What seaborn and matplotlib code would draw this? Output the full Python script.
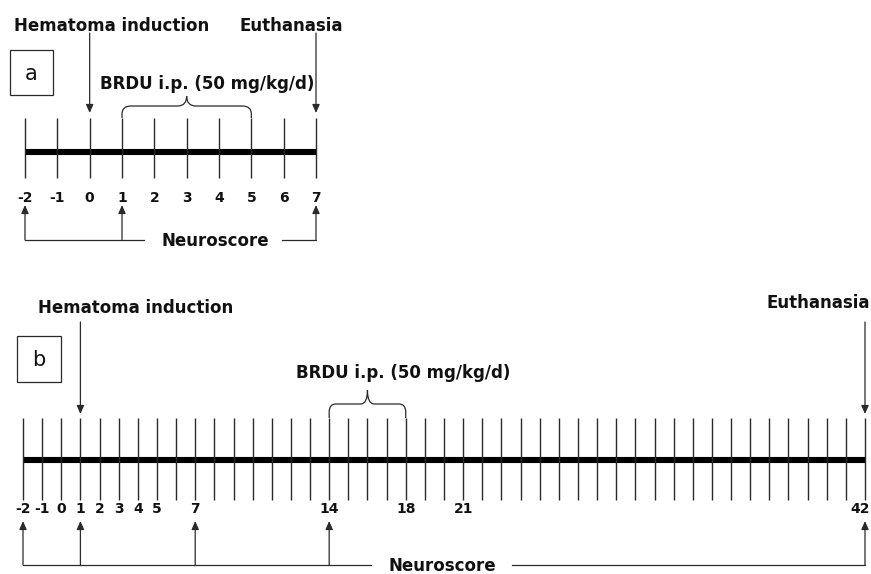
import matplotlib
matplotlib.use("Agg")
import matplotlib.pyplot as plt
from matplotlib.path import Path
from matplotlib.patches import PathPatch, Rectangle
import seaborn as sns

# ---------------- data ----------------
days_a = list(range(-2, 8))
labels_a = [-2, -1, 0, 1, 2, 3, 4, 5, 6, 7]
neuro_a = [-2, 1, 7]
brdu_a = (1, 5)
hematoma_a = 0
euthanasia_a = 7

days_b = list(range(-2, 43))
labels_b = [-2, -1, 0, 1, 2, 3, 4, 5, 7, 14, 18, 21, 42]
neuro_b = [-2, 1, 7, 14, 42]
brdu_b = (14, 18)
hematoma_b = 1
euthanasia_b = 42

panel_letters = ["a", "b"]
txt_hematoma = "Hematoma induction"
txt_euth = "Euthanasia"
txt_brdu = "BRDU i.p. (50 mg/kg/d)"
txt_neuro = "Neuroscore"

# ---------------- style ----------------
sns.set_style("white")
plt.rcParams["font.family"] = ["DejaVu Sans"]

W, H = 871, 574
fig = plt.figure(figsize=(W / 100, H / 100), dpi=100)

THIN = "#2a2a2a"
TXT = "#111111"
FS_TITLE = 12
FS_LAB = 10


def make_axes(px_left, px_right, py_top, py_bot, d0, d1):
    ax = fig.add_axes([px_left / W, 1 - py_bot / H, (px_right - px_left) / W, (py_bot - py_top) / H])
    ax.set_xlim(d0, d1)
    ax.set_ylim(py_bot, py_top)
    ax.set_axis_off()
    return ax


def arrow(ax, x, y_from, y_to):
    ax.annotate("", xy=(x, y_to), xytext=(x, y_from),
                arrowprops=dict(arrowstyle="-|>,head_length=0.5,head_width=0.22",
                                lw=0.9, color=THIN, mutation_scale=10,
                                shrinkA=0, shrinkB=0),
                annotation_clip=False)


def brace(ax, x1, x2, yb, yt, yp, rx, ry):
    xm = (x1 + x2) / 2
    verts = [(x1, yb), (x1, yt + ry), (x1, yt), (x1 + rx, yt),
             (xm - rx, yt), (xm, yt), (xm, yp), (xm, yt), (xm + rx, yt),
             (x2 - rx, yt), (x2, yt), (x2, yt + ry), (x2, yb)]
    codes = [Path.MOVETO, Path.LINETO, Path.CURVE3, Path.CURVE3,
             Path.LINETO, Path.CURVE3, Path.CURVE3, Path.CURVE3, Path.CURVE3,
             Path.LINETO, Path.CURVE3, Path.CURVE3, Path.LINETO]
    ax.add_patch(PathPatch(Path(verts, codes), fc="none", ec=THIN, lw=0.9, clip_on=False))


def panel(ax, days, labels, neuro, brdu, hem, euth, letter, L):
    # thick timeline
    sns.lineplot(x=[days[0], days[-1]], y=[L["line"], L["line"]], ax=ax,
                 color="black", lw=4.4, legend=False)
    for ln in ax.lines:
        ln.set_clip_on(False)
        ln.set_solid_capstyle("butt")
    # day ticks
    ax.vlines(days, L["tick_top"], L["tick_bot"], color=THIN, lw=1.0, clip_on=False)
    # tick labels (the last one is kept inside the picture edge)
    for d in labels:
        if d == labels[-1] and L.get("last_right"):
            ax.text(L["last_right"], L["lab"], str(d), ha="right", va="baseline",
                    fontsize=FS_LAB, fontweight="bold", color=TXT)
        else:
            ax.text(d, L["lab"], str(d), ha="center", va="baseline",
                    fontsize=FS_LAB, fontweight="bold", color=TXT)
    # event arrows
    arrow(ax, hem, L["arr_top"], L["arr_tip"])
    arrow(ax, euth, L["arr_top"], L["arr_tip"])
    ax.text(L["hem_x"], L["title_y"], txt_hematoma, ha="center", va="baseline",
            fontsize=FS_TITLE, fontweight="bold", color=TXT)
    ax.text(L["euth_x"], L["etitle_y"], txt_euth, ha=L.get("euth_ha", "center"), va="baseline",
            fontsize=FS_TITLE, fontweight="bold", color=TXT)
    # BRDU brace
    brace(ax, brdu[0], brdu[1], L["tick_top"], L["br_top"], L["br_peak"], L["rx"], 8)
    ax.text(L["brdu_x"], L["brdu_y"], txt_brdu, ha="center", va="baseline",
            fontsize=FS_TITLE, fontweight="bold", color=TXT)
    # neuroscore
    ax.plot([neuro[0], neuro[-1]], [L["nl"], L["nl"]], color=THIN, lw=0.9, clip_on=False)
    for d in neuro:
        arrow(ax, d, L["nl"], L["up_tip"])
    ax.text(L["neuro_x"], L["neuro_y"], txt_neuro, ha="center", va="baseline",
            fontsize=FS_TITLE, fontweight="bold", color=TXT, zorder=5,
            bbox=dict(boxstyle="square,pad=0.1", fc="white", ec="none"))
    ax.plot([L["gap"][0], L["gap"][1]], [L["nl"], L["nl"]], color="white", lw=3,
            clip_on=False, zorder=4)
    # panel letter box
    bx0, bx1, by0, by1 = L["box"]
    ax.add_patch(Rectangle((bx0, by1), bx1 - bx0, by0 - by1, fc="white",
                           ec=THIN, lw=0.9, clip_on=False))
    ax.text((bx0 + bx1) / 2, (by0 + by1) / 2 + 1, letter, ha="center", va="center",
            fontsize=15, color=TXT)


# panel a: day -2 at px 25, day 7 at px 316
ax_a = make_axes(25, 316, 0, 260, -2, 7)
pa = (316 - 25) / 9.0
La = dict(line=152, tick_top=118, tick_bot=178, lab=202,
          arr_top=33, arr_tip=113, title_y=31, etitle_y=31,
          hem_x=-2 + (112 - 25) / pa, euth_x=-2 + (291 - 25) / pa,
          br_top=106, br_peak=96, rx=0.28,
          brdu_x=-2 + (207 - 25) / pa, brdu_y=89,
          nl=240, up_tip=205, neuro_x=-2 + (215 - 25) / pa, neuro_y=246,
          gap=(-2 + (147 - 25) / pa, -2 + (280 - 25) / pa),
          box=(-2 + (10 - 25) / pa, -2 + (53 - 25) / pa, 50, 95))
panel(ax_a, days_a, labels_a, neuro_a, brdu_a, hematoma_a, euthanasia_a, panel_letters[0], La)

# panel b: day -2 at px 23, day 42 at px 865
ax_b = make_axes(23, 865, 270, 574, -2, 42)
pb = (865 - 23) / 44.0
Lb = dict(line=460, tick_top=418, tick_bot=500, lab=513,
          arr_top=322, arr_tip=414, title_y=313, etitle_y=308,
          hem_x=-2 + (136 - 23) / pb, euth_x=-2 + (870 - 23) / pb, euth_ha="right",
          br_top=404, br_peak=390, rx=0.35,
          brdu_x=-2 + (403 - 23) / pb, brdu_y=378,
          nl=565, up_tip=521, neuro_x=-2 + (442 - 23) / pb, neuro_y=571,
          gap=(-2 + (374 - 23) / pb, -2 + (510 - 23) / pb),
          last_right=-2 + (870 - 23) / pb,
          box=(-2 + (17 - 23) / pb, -2 + (61 - 23) / pb, 336, 382))
panel(ax_b, days_b, labels_b, neuro_b, brdu_b, hematoma_b, euthanasia_b, panel_letters[1], Lb)

fig.savefig("out.png", dpi=100, facecolor="white")
